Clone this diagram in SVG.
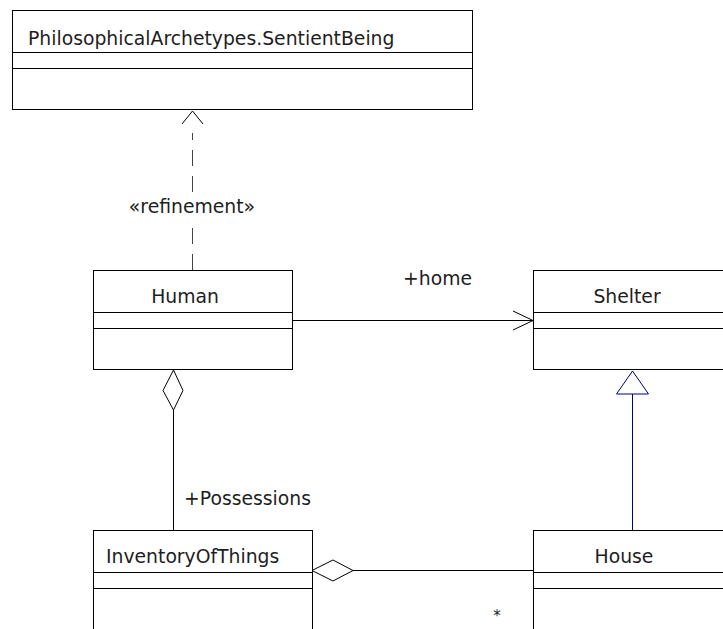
<svg xmlns="http://www.w3.org/2000/svg" width="723" height="629" viewBox="0 0 723 629">
  <style>
    .box { fill: #ffffff; stroke: #000000; stroke-width: 1; }
    .sep { stroke: #000000; stroke-width: 1; }
    .lbl { font-family: "DejaVu Sans", "Liberation Sans", sans-serif; font-size: 18.8px; fill: #1e1e1e; }
    .line { fill: none; stroke: #000000; stroke-width: 1; }
    .dash { fill: none; stroke: #444444; stroke-width: 1; stroke-dasharray: 16 10; }
    .gen { fill: none; stroke: #000080; stroke-width: 1; }
  </style>
  <rect width="723" height="629" fill="#ffffff"/>

  <!-- connectors -->
  <g id="connectors">
    <!-- refinement dependency Human -> SentientBeing -->
    <path class="dash" d="M192.5 270 V133"/>
    <rect x="125" y="195" width="135" height="24" fill="#ffffff"/>
    <path class="line" d="M182 124 L192.5 111 L203 124"/>
    <text class="lbl" x="192" y="213" text-anchor="middle">«refinement»</text>

    <!-- navigable association Human -> Shelter -->
    <path class="line" d="M292 320.5 H533"/>
    <path class="line" d="M513 311 L533 320.5 L513 330"/>
    <text class="lbl" x="403" y="285">+home</text>

    <!-- generalization House -> Shelter -->
    <path class="gen" d="M632.5 394 V531"/>
    <path class="gen" d="M632.5 371 L648.5 394 H616.5 Z" fill="#ffffff"/>

    <!-- aggregation Human <>- InventoryOfThings -->
    <path class="line" d="M173.5 410 V531"/>
    <path class="line" d="M173.5 370 L183 390.5 L173.5 410 L163 390.5 Z" fill="#ffffff"/>
    <text class="lbl" x="184" y="505">+Possessions</text>

    <!-- aggregation InventoryOfThings <>- House -->
    <path class="line" d="M353 570.5 H533"/>
    <path class="line" d="M312 570.5 L333 560 L353 570.5 L333 581 Z" fill="#ffffff"/>
    <text class="lbl" x="497" y="621" text-anchor="middle" style="font-size:15px">*</text>
  </g>

  <!-- class nodes -->
  <g id="SentientBeing">
    <rect class="box" x="12.5" y="10.5" width="460" height="99"/>
    <path class="sep" d="M12.5 52.5 H472.5 M12.5 68.5 H472.5"/>
    <text class="lbl" x="28" y="45">PhilosophicalArchetypes.SentientBeing</text>
  </g>

  <g id="Human">
    <rect class="box" x="93.5" y="270.5" width="199" height="99"/>
    <path class="sep" d="M93.5 312.5 H292.5 M93.5 328.5 H292.5"/>
    <text class="lbl" x="185" y="303" text-anchor="middle">Human</text>
  </g>

  <g id="Shelter">
    <rect class="box" x="533.5" y="270.5" width="200" height="99"/>
    <path class="sep" d="M533.5 312.5 H723 M533.5 328.5 H723"/>
    <text class="lbl" x="627" y="303" text-anchor="middle">Shelter</text>
  </g>

  <g id="InventoryOfThings">
    <rect class="box" x="93.5" y="530.5" width="219" height="110"/>
    <path class="sep" d="M93.5 572.5 H312.5 M93.5 588.5 H312.5"/>
    <text class="lbl" x="106" y="563">InventoryOfThings</text>
  </g>

  <g id="House">
    <rect class="box" x="533.5" y="530.5" width="200" height="110"/>
    <path class="sep" d="M533.5 572.5 H723 M533.5 588.5 H723"/>
    <text class="lbl" x="624" y="563" text-anchor="middle">House</text>
  </g>
</svg>
